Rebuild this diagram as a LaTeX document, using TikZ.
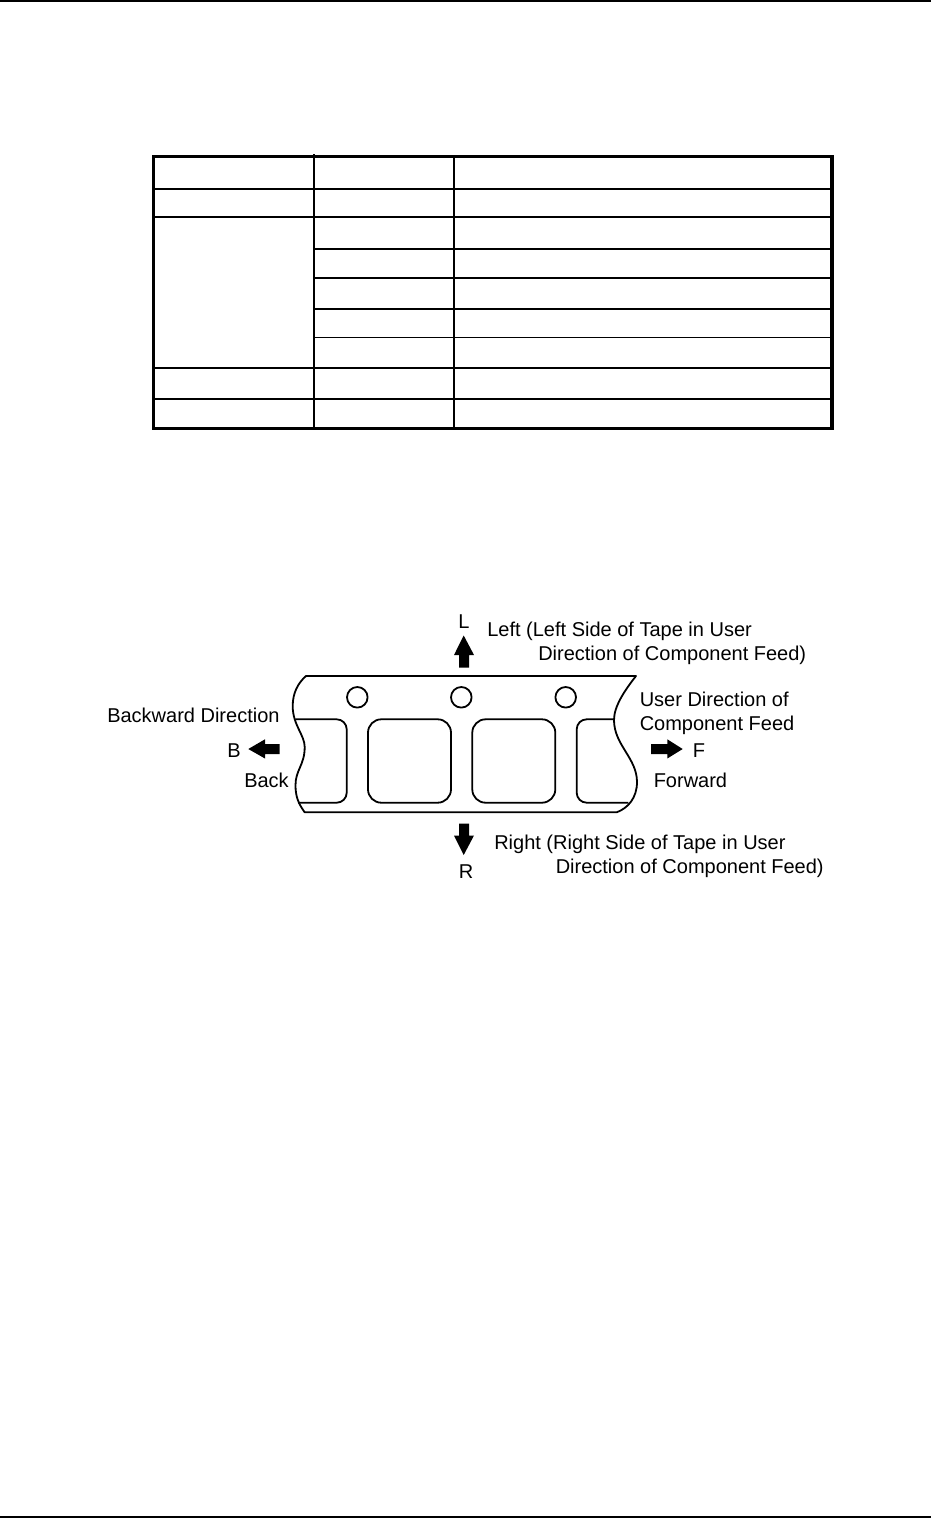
\documentclass[tikz,border=0pt]{standalone}
\usepackage{fontspec}
\setmainfont{Liberation Sans}
\begin{document}
\begin{tikzpicture}[x=0.75pt,y=-0.75pt,
  rulebar/.style={line width=1.6pt},
  grid/.style={line width=1.5pt},
  gridthin/.style={line width=0.8pt},
  gridframe/.style={line width=2.4pt},
  tape/.style={line width=1.35pt,line join=round},
  lbl/.style={inner sep=0pt,anchor=base west,font=\fontsize{15}{18}\selectfont},
  blockarrow/.style={fill=black,draw=none}]
\useasboundingbox (0,0) rectangle (931,1518);
\fill[white] (0,0) rectangle (931,1518);
% page rules
\coordinate (rt1) at (0,1); \coordinate (rt2) at (931,1);
\coordinate (rb1) at (0,1517); \coordinate (rb2) at (931,1517);
\draw[rulebar] (rt1) -- (rt2);
\draw[rulebar] (rb1) -- (rb2);
% table
\draw[grid] (153.5,189) -- (832,189);
\draw[grid] (153.5,216.7) -- (832,216.7);
\draw[grid] (314,249) -- (832,249);
\draw[grid] (314,278) -- (832,278);
\draw[grid] (314,308.7) -- (832,308.7);
\draw[gridthin] (314,337.3) -- (832,337.3);
\draw[grid] (153.5,367.7) -- (832,367.7);
\draw[grid] (153.5,398.7) -- (832,398.7);
\draw[grid] (314,154) -- (314,428);
\draw[grid] (454,156) -- (454,428);
\draw[gridframe] (153.5,156.5) rectangle (832,428.3);
% tape outline
\draw[tape] (306,676) -- (636,676)
  .. controls (625,690) and (614,706) .. (614,720)
  .. controls (614,745) and (637,758) .. (637,782)
  .. controls (637,798) and (628,808) .. (616.7,812.3)
  -- (304.7,812.3)
  .. controls (298,803) and (295.5,796) .. (295.5,785)
  .. controls (295.5,770) and (304.7,765) .. (304.7,747)
  .. controls (304.7,735) and (292.7,725) .. (292.7,706)
  .. controls (292.7,693) and (298,683) .. (306,676) -- cycle;
% windows
\draw[tape] (295.3,719.3) -- (336.7,719.3) arc[start angle=-90,end angle=0,radius=10] -- (346.7,792.7) arc[start angle=0,end angle=90,radius=10] -- (298,802.7);
\draw[tape,rounded corners=10] (368,719.3) rectangle (451,802.7);
\draw[tape,rounded corners=10] (472.3,719.3) rectangle (555.3,802.7);
\draw[tape] (614,719.3) -- (586.7,719.3) arc[start angle=270,end angle=180,radius=10] -- (576.7,792.7) arc[start angle=180,end angle=90,radius=10] -- (628.3,802.7);
% holes
\draw[tape] (357.3,697.3) circle[radius=10.3];
\draw[tape] (461.3,697.3) circle[radius=10.3];
\draw[tape] (565.7,697.3) circle[radius=10.3];
% arrows
\fill[blockarrow] (463.7,635.5) -- (474,655) -- (469,655) -- (469,667.5) -- (459,667.5) -- (459,655) -- (454,655) -- cycle;
\fill[blockarrow] (463.7,855) -- (474,835.5) -- (469,835.5) -- (469,823.5) -- (459,823.5) -- (459,835.5) -- (454,835.5) -- cycle;
\fill[blockarrow] (248.3,749) -- (265,739.3) -- (265,744) -- (279.5,744) -- (279.5,754) -- (265,754) -- (265,758.5) -- cycle;
\fill[blockarrow] (682.7,749) -- (667.3,739.3) -- (667.3,744) -- (651,744) -- (651,754) -- (667.3,754) -- (667.3,758.5) -- cycle;
% labels
\node[lbl] (l) at (458,628) {L};
\node[lbl] (t1) at (487,636) {Left (Left Side of Tape in User};
\node[lbl] (t2) at (538,660) {Direction of Component Feed)};
\node[lbl] (t3) at (639.5,706) {User Direction of};
\node[lbl] (t4) at (639.5,730) {Component Feed};
\node[lbl] (t5) at (107,722) {Backward Direction};
\node[lbl] (b) at (227,757) {B};
\node[lbl] (f) at (692.5,757) {F};
\node[lbl] (back) at (244,787) {Back};
\node[lbl] (fw) at (653.5,787) {Forward};
\node[lbl] (t6) at (494,849) {Right (Right Side of Tape in User};
\node[lbl] (t7) at (555.5,873) {Direction of Component Feed)};
\node[lbl] (r) at (458.5,878) {R};
\end{tikzpicture}
\end{document}
